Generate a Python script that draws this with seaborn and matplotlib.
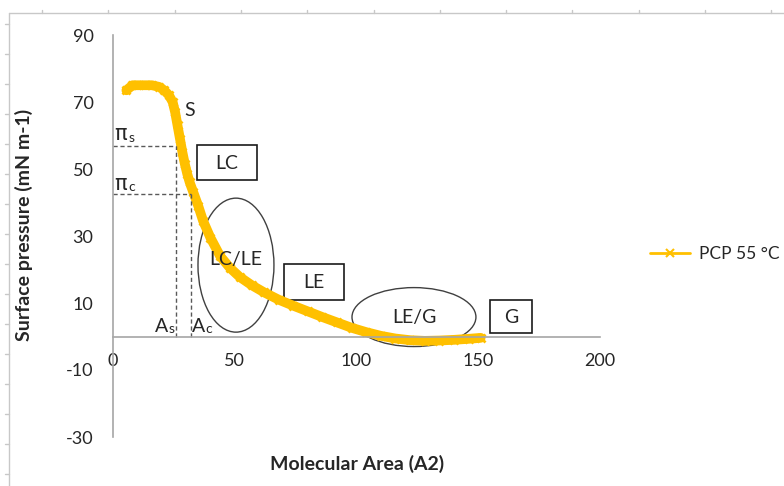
import matplotlib
matplotlib.use("Agg")
import matplotlib.pyplot as plt
from matplotlib.lines import Line2D
from matplotlib.patches import Ellipse, Rectangle
import seaborn as sns
import pandas as pd

# Surface pressure - molecular area isotherm
area = [5.5, 8, 10, 13, 16, 19, 21, 23, 24.5, 25.5, 26.5, 27.5, 28.5, 29.5,
        30.5, 31.5, 33, 35, 37, 40, 44, 48, 52, 57, 62, 68, 74, 80, 86, 92,
        98, 104, 110, 116, 122, 128, 134, 140, 146, 151]
pressure = [73.5, 75, 75, 75, 75, 74.5, 73.5, 72, 70, 67, 63, 59, 55, 51.5,
            48.5, 46, 43, 39, 34.5, 29.5, 24, 20.5, 17.8, 15.3, 13.2, 11, 9.2,
            7.5, 5.8, 4.2, 2.6, 1.3, 0.2, -0.6, -1.1, -1.3, -1.2, -1.0, -0.7, -0.4]
series_name = "PCP 55 °C"

x_ticks = [0, 50, 100, 150, 200]
y_ticks = [-30, -10, 10, 30, 50, 70, 90]

# Characteristic points of the isotherm
pi_s, pi_c = 57, 42.5
a_s, a_c = 25.9, 31.9

GOLD = "#FFC000"
AXIS_GREY = "#A6A6A6"
TEXT = "#262626"

sns.set_theme(style="white")
plt.rcParams["font.family"] = ["Lato", "DejaVu Sans"]
plt.rcParams["axes.unicode_minus"] = False

fig = plt.figure(figsize=(7.84, 4.86), dpi=100)
ax = fig.add_axes([113 / 784, 1 - 437 / 486, 487 / 784, 402 / 486])

df = pd.DataFrame({"area": area, "pressure": pressure})
sns.lineplot(data=df, x="area", y="pressure", ax=ax, color=GOLD, linewidth=7,
             marker="x", markersize=6, markeredgewidth=2, markeredgecolor=GOLD,
             sort=False, legend=False)

ax.set_xlim(0, 200)
ax.set_ylim(-30, 90)
ax.set_xticks(x_ticks)
ax.set_yticks(y_ticks)
ax.set_yticklabels([str(v) for v in y_ticks])
ax.tick_params(axis="both", length=0, labelsize=13, labelcolor=TEXT)
ax.tick_params(axis="y", pad=14)
ax.tick_params(axis="x", pad=12)

for side in ("top", "right"):
    ax.spines[side].set_visible(False)
ax.spines["bottom"].set_position(("data", 0))
ax.spines["left"].set_position(("data", 0))
for side in ("bottom", "left"):
    ax.spines[side].set_color(AXIS_GREY)
    ax.spines[side].set_linewidth(1.2)

ax.set_xlabel("Molecular Area (A2)", fontsize=14, fontweight="bold", color=TEXT)
ax.set_ylabel("Surface pressure (mN m-1)", fontsize=14, fontweight="bold", color=TEXT)
ax.xaxis.set_label_coords(0.501, -0.045)
ax.yaxis.set_label_coords(-0.165, 0.527)

# Dashed guides for the collapse / critical points
dash = dict(color="#595959", linestyle=(0, (3, 2)), linewidth=1.0)
ax.plot([0, a_s], [pi_s, pi_s], **dash)
ax.plot([a_s, a_s], [0, pi_s], **dash)
ax.plot([0, a_c], [pi_c, pi_c], **dash)
ax.plot([a_c, a_c], [0, pi_c], **dash)

lbl = dict(fontsize=14, color=TEXT, va="center")
greek = dict(fontsize=15, color=TEXT, va="center", family="DejaVu Sans")
sub = dict(fontsize=10, color=TEXT, va="center")
ax.text(0.4, 60.3, "π", ha="left", **greek)
ax.text(6.4, 59.2, "s", ha="left", **sub)
ax.text(0.4, 45.6, "π", ha="left", **greek)
ax.text(6.4, 44.6, "c", ha="left", **sub)
ax.text(17.4, 3.0, "A", ha="left", **lbl)
ax.text(22.8, 2.2, "s", ha="left", **sub)
ax.text(32.4, 3.0, "A", ha="left", **lbl)
ax.text(37.8, 2.2, "c", ha="left", **sub)
ax.text(31.6, 67.6, "S", ha="center", **lbl)

# Phase regions
box = dict(fill=False, edgecolor="#1a1a1a", linewidth=1.2)
ax.add_patch(Rectangle((34.5, 46.7), 24.6, 10.5, **box))
ax.add_patch(Rectangle((70.2, 10.9), 24.7, 10.7, **box))
ax.add_patch(Rectangle((154.8, 1.0), 17.3, 9.9, **box))
ell = dict(fill=False, edgecolor="#404040", linewidth=1.0)
ax.add_patch(Ellipse((50.5, 21.3), 31.2, 40.0, **ell))
ax.add_patch(Ellipse((123.6, 5.8), 50.9, 17.6, **ell))

phase = dict(fontsize=14, color=TEXT, ha="center", va="center")
ax.text(46.8, 51.6, "LC", **phase)
ax.text(50.5, 23.0, "LC/LE", **phase)
ax.text(82.5, 16.2, "LE", **phase)
ax.text(123.6, 5.8, "LE/G", **phase)
ax.text(163.4, 5.8, "G", **phase)

handle = Line2D([], [], color=GOLD, linewidth=2, marker="x", markersize=6,
                markeredgewidth=1.5)
ax.legend(handles=[handle], labels=[series_name], loc="center left",
          bbox_to_anchor=(650 / 784, 1 - 254 / 486), bbox_transform=fig.transFigure,
          frameon=False, fontsize=12.5, handlelength=2.3, handletextpad=0.55,
          borderpad=0, borderaxespad=0, labelcolor=TEXT)

# Light outer frame with ruler ticks
frame = dict(color="#C8C8C8", linewidth=1.0, transform=fig.transFigure)
W, H = 784, 486
fig.add_artist(Line2D([9 / W, 1], [1 - 13 / H, 1 - 13 / H], **frame))
fig.add_artist(Line2D([9 / W, 9 / W], [0, 1 - 13 / H], **frame))
xt = 42
while xt < W:
    fig.add_artist(Line2D([xt / W, xt / W], [1 - 10 / H, 1 - 13 / H], **frame))
    xt += 66.3
yt = 24
while yt < H:
    fig.add_artist(Line2D([5 / W, 9 / W], [1 - yt / H, 1 - yt / H], **frame))
    yt += 30

fig.savefig("out.png", dpi=100)
